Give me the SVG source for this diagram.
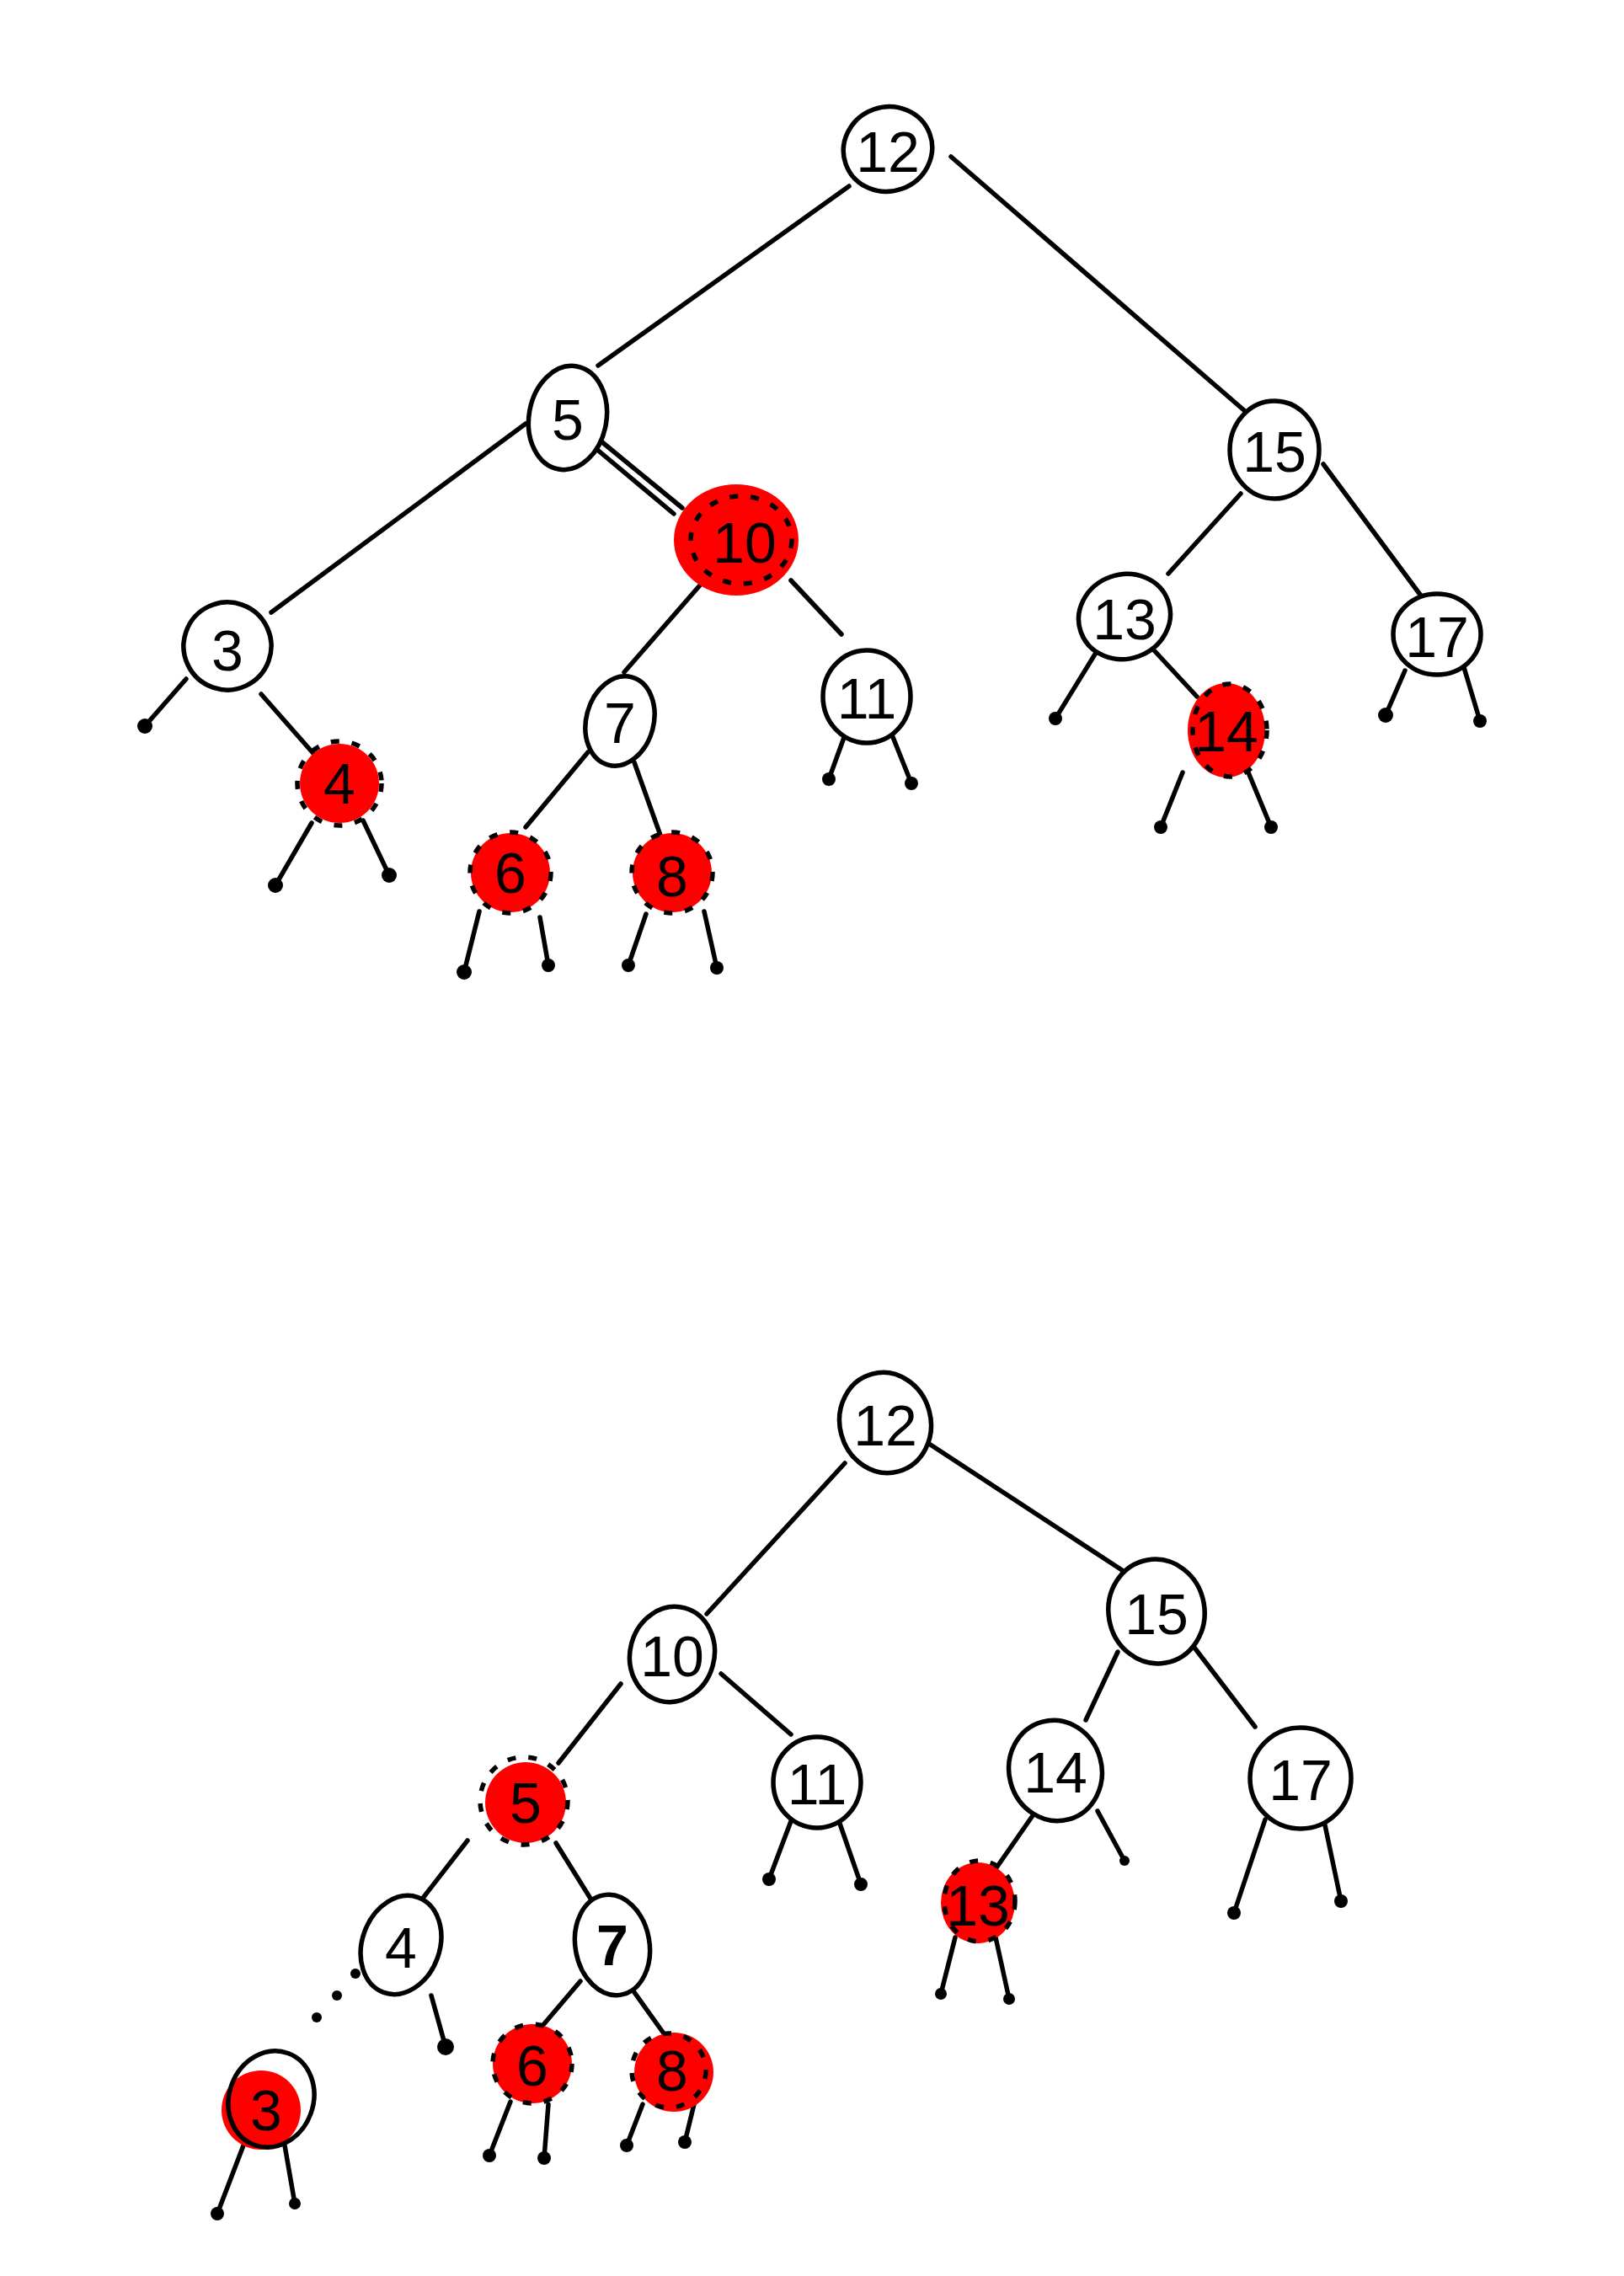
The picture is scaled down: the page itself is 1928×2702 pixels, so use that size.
<svg xmlns="http://www.w3.org/2000/svg" width="1928" height="2702" viewBox="0 0 1928 2702">
<style>
.n{fill:#fff;stroke:#000;stroke-width:5.5}
.o{fill:none;stroke:#000;stroke-width:5.5}
.r{fill:#ff0000}
.d{fill:none;stroke:#000;stroke-width:5.5;stroke-dasharray:10 15}
.e line{stroke:#000;stroke-width:5.5;stroke-linecap:round}
.e circle{fill:#000}
.t{font-family:"Liberation Sans",Arial,sans-serif;font-size:68px;text-anchor:middle;dominant-baseline:central;fill:#000}
</style>
<rect width="1928" height="2702" fill="#fff"/>
<g id="connectors" class="e">
<line x1="1008" y1="221" x2="710" y2="434"/>
<line x1="1129" y1="186" x2="1478" y2="488"/>
<line x1="624" y1="503" x2="322" y2="727"/>
<line x1="715" y1="525" x2="810" y2="603"/>
<line x1="708" y1="533" x2="800" y2="610"/>
<line x1="836" y1="689" x2="741" y2="798"/>
<line x1="939" y1="689" x2="999" y2="753"/>
<line x1="1473" y1="586" x2="1387" y2="681"/>
<line x1="1571" y1="551" x2="1689" y2="710"/>
<line x1="221" y1="806" x2="172" y2="862"/><circle cx="172" cy="862" r="9"/>
<line x1="310" y1="824" x2="376" y2="899"/>
<line x1="370" y1="977" x2="327" y2="1051"/><circle cx="327" cy="1051" r="9"/>
<line x1="431" y1="974" x2="462" y2="1039"/><circle cx="462" cy="1039" r="9"/>
<line x1="698" y1="893" x2="624" y2="982"/>
<line x1="753" y1="905" x2="796" y2="1025"/>
<line x1="569" y1="1082" x2="551" y2="1154"/><circle cx="551" cy="1154" r="9"/>
<line x1="641" y1="1089" x2="651" y2="1146"/><circle cx="651" cy="1146" r="8"/>
<line x1="767" y1="1085" x2="746" y2="1146"/><circle cx="746" cy="1146" r="8"/>
<line x1="836" y1="1082" x2="851" y2="1149"/><circle cx="851" cy="1149" r="8"/>
<line x1="1004" y1="870" x2="984" y2="925"/><circle cx="984" cy="925" r="8"/>
<line x1="1058" y1="870" x2="1082" y2="930"/><circle cx="1082" cy="930" r="8"/>
<line x1="1301" y1="775" x2="1253" y2="853"/><circle cx="1253" cy="853" r="8"/>
<line x1="1370" y1="772" x2="1421" y2="827"/>
<line x1="1404" y1="917" x2="1378" y2="982"/><circle cx="1378" cy="982" r="8"/>
<line x1="1482" y1="917" x2="1509" y2="982"/><circle cx="1509" cy="982" r="8"/>
<line x1="1668" y1="796" x2="1645" y2="849"/><circle cx="1645" cy="849" r="9"/>
<line x1="1737" y1="789" x2="1757" y2="856"/><circle cx="1757" cy="856" r="8"/>
<line x1="1003" y1="1737" x2="839" y2="1916"/>
<line x1="1103" y1="1714" x2="1332" y2="1864"/>
<line x1="737" y1="1999" x2="663" y2="2093"/>
<line x1="856" y1="1987" x2="939" y2="2059"/>
<line x1="1327" y1="1961" x2="1289" y2="2042"/>
<line x1="1418" y1="1956" x2="1490" y2="2050"/>
<line x1="555" y1="2185" x2="486" y2="2274"/>
<line x1="660" y1="2188" x2="703" y2="2257"/>
<line x1="512" y1="2369" x2="529" y2="2430"/><circle cx="529" cy="2430" r="10"/>
<line x1="689" y1="2352" x2="638" y2="2412"/>
<line x1="750" y1="2361" x2="793" y2="2421"/>
<line x1="606" y1="2495" x2="581" y2="2559"/><circle cx="581" cy="2559" r="8"/>
<line x1="651" y1="2498" x2="646" y2="2562"/><circle cx="646" cy="2562" r="8"/>
<line x1="763" y1="2498" x2="744" y2="2547"/><circle cx="744" cy="2547" r="8"/>
<line x1="824" y1="2498" x2="813" y2="2543"/><circle cx="813" cy="2543" r="8"/>
<line x1="289" y1="2547" x2="258" y2="2628"/><circle cx="258" cy="2628" r="8"/>
<line x1="338" y1="2547" x2="350" y2="2616"/><circle cx="350" cy="2616" r="7"/>
<line x1="939" y1="2162" x2="913" y2="2231"/><circle cx="913" cy="2231" r="8"/>
<line x1="996" y1="2162" x2="1022" y2="2237"/><circle cx="1022" cy="2237" r="8"/>
<line x1="1227" y1="2154" x2="1179" y2="2223"/>
<line x1="1303" y1="2150" x2="1335" y2="2209"/><circle cx="1335" cy="2209" r="6"/>
<line x1="1134" y1="2300" x2="1117" y2="2367"/><circle cx="1117" cy="2367" r="7"/>
<line x1="1182" y1="2300" x2="1198" y2="2373"/><circle cx="1198" cy="2373" r="7"/>
<line x1="1502" y1="2160" x2="1465" y2="2271"/><circle cx="1465" cy="2271" r="8"/>
<line x1="1572" y1="2162" x2="1592" y2="2257"/><circle cx="1592" cy="2257" r="8"/>
<circle cx="422" cy="2343" r="6"/><circle cx="400" cy="2369" r="6"/><circle cx="376" cy="2395" r="6"/>
</g>
<g id="t12"><ellipse class="n" cx="1054" cy="177" rx="53" ry="50" transform="rotate(-20 1054 177)"/><text class="t" x="1054" y="180">12</text></g>
<g id="t5"><ellipse class="n" cx="674" cy="496" rx="46" ry="62" transform="rotate(10 674 496)"/><text class="t" x="674" y="498">5</text></g>
<g id="t15"><ellipse class="n" cx="1513" cy="534" rx="53" ry="58"/><text class="t" x="1513" y="536">15</text></g>
<g id="t10"><ellipse class="r" cx="874" cy="641" rx="74" ry="66"/><ellipse class="d" cx="880" cy="641" rx="60" ry="52"/><text class="t" x="884" y="644">10</text></g>
<g id="t3"><ellipse class="n" cx="270" cy="767" rx="52" ry="52" transform="rotate(-25 270 767)"/><text class="t" x="270" y="772">3</text></g>
<g id="t7"><ellipse class="n" cx="736" cy="856" rx="40" ry="54" transform="rotate(15 736 856)"/><text class="t" x="736" y="858">7</text></g>
<g id="t11"><ellipse class="n" cx="1029" cy="827" rx="52" ry="55"/><text class="t" x="1029" y="829">11</text></g>
<g id="t13"><ellipse class="n" cx="1335" cy="732" rx="55" ry="50" transform="rotate(-20 1335 732)"/><text class="t" x="1335" y="735">13</text></g>
<g id="t17"><ellipse class="n" cx="1706" cy="753" rx="52" ry="48"/><text class="t" x="1706" y="756">17</text></g>
<g id="t4"><circle class="r" cx="403" cy="930" r="47"/><circle class="d" cx="403" cy="930" r="50"/><text class="t" x="403" y="930">4</text></g>
<g id="t14"><ellipse class="r" cx="1456" cy="867" rx="46" ry="56"/><ellipse class="d" cx="1460" cy="867" rx="44" ry="55"/><text class="t" x="1456" y="868">14</text></g>
<g id="t6"><circle class="r" cx="606" cy="1036" r="47"/><circle class="d" cx="606" cy="1036" r="48"/><text class="t" x="606" y="1036">6</text></g>
<g id="t8"><circle class="r" cx="798" cy="1036" r="47"/><circle class="d" cx="798" cy="1036" r="48"/><text class="t" x="798" y="1040">8</text></g>
<g id="b12"><ellipse class="n" cx="1051" cy="1689" rx="54" ry="60" transform="rotate(-15 1051 1689)"/><text class="t" x="1051" y="1692">12</text></g>
<g id="b10"><ellipse class="n" cx="798" cy="1964" rx="50" ry="57" transform="rotate(15 798 1964)"/><text class="t" x="798" y="1966">10</text></g>
<g id="b15"><ellipse class="n" cx="1373" cy="1913" rx="57" ry="62" transform="rotate(-10 1373 1913)"/><text class="t" x="1373" y="1916">15</text></g>
<g id="b5"><circle class="r" cx="624" cy="2140" r="48"/><circle class="d" cx="622" cy="2138" r="52"/><text class="t" x="624" y="2140">5</text></g>
<g id="b11"><ellipse class="n" cx="970" cy="2116" rx="52" ry="54"/><text class="t" x="970" y="2118">11</text></g>
<g id="b14"><ellipse class="n" cx="1253" cy="2102" rx="55" ry="60" transform="rotate(-15 1253 2102)"/><text class="t" x="1253" y="2104">14</text></g>
<g id="b17"><ellipse class="n" cx="1544" cy="2111" rx="60" ry="60"/><text class="t" x="1544" y="2113">17</text></g>
<g id="b4"><ellipse class="n" cx="476" cy="2309" rx="46" ry="60" transform="rotate(20 476 2309)"/><text class="t" x="476" y="2312">4</text></g>
<g id="b7"><ellipse class="n" cx="727" cy="2309" rx="44" ry="60" transform="rotate(-10 727 2309)"/><text class="t" x="727" y="2309" font-weight="bold">7</text></g>
<g id="b13"><ellipse class="r" cx="1161" cy="2259" rx="44" ry="48"/><ellipse class="d" cx="1163" cy="2257" rx="42" ry="48"/><text class="t" x="1161" y="2262">13</text></g>
<g id="b3"><circle class="r" cx="310" cy="2505" r="47"/><ellipse class="o" cx="322" cy="2492" rx="50" ry="58" transform="rotate(20 322 2492)"/><text class="t" x="316" y="2505">3</text></g>
<g id="b6"><circle class="r" cx="632" cy="2450" r="47"/><circle class="d" cx="632" cy="2450" r="47"/><text class="t" x="632" y="2452">6</text></g>
<g id="b8"><circle class="r" cx="800" cy="2460" r="47"/><circle class="d" cx="794" cy="2458" r="44"/><text class="t" x="798" y="2458">8</text></g>
</svg>
